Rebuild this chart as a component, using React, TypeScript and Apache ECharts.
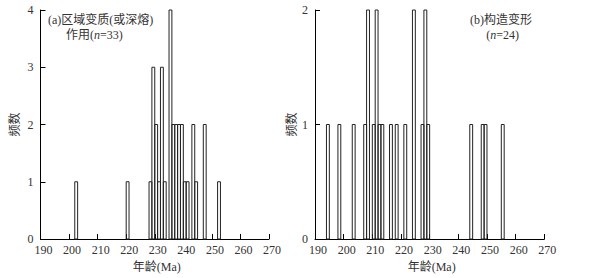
import React, { useEffect, useRef } from "react";
import * as echarts from "echarts";

// Panel (a): bin start ages (Ma, 1 Ma bins) and counts
const binsA = [202, 220, 228, 229, 230, 231, 232, 233, 235, 236, 237, 238, 239, 240, 241, 243, 244, 247, 252];
const countsA = [1, 1, 1, 3, 2, 1, 3, 1, 4, 2, 2, 2, 2, 1, 1, 2, 1, 2, 1];
// Panel (b)
const binsB = [194, 198, 203, 207, 208, 210, 211, 212, 213, 216, 218, 221, 224, 227, 228, 229, 244, 248, 249, 255];
const countsB = [1, 1, 1, 1, 2, 1, 2, 1, 1, 1, 1, 1, 2, 1, 2, 1, 1, 1, 1, 1];
const binWidth = 1;
const xTicks = [190, 270, 10];
const yMaxA = 4;
const yMaxB = 2;
const labelA1 = "(a)区域变质(或深熔)";
const labelA2 = "作用({i|n}=33)";
const labelB1 = "(b)构造变形";
const labelB2 = "({i|n}=24)";
const xName = "年龄(Ma)";
const yName = "频数";

const FONT = '"Liberation Serif", "Noto Sans CJK SC", serif';
const TXT = "#333";

export default function App() {
  const ref = useRef<HTMLDivElement>(null);
  useEffect(() => {
    if (!ref.current) return;
    const chart = echarts.init(ref.current, null, { renderer: "svg" });
    const mkX = (idx: number) => ({
      type: "value" as const,
      gridIndex: idx,
      min: xTicks[0],
      max: xTicks[1],
      interval: xTicks[2],
      name: xName,
      nameLocation: "middle" as const,
      nameGap: 20,
      nameTextStyle: { color: TXT, fontFamily: FONT, fontSize: 12, padding: [0, 0, 0, 4] },
      axisLine: { lineStyle: { color: "#000", width: 1 } },
      axisTick: { inside: true, length: 5, lineStyle: { color: "#000" } },
      axisLabel: { color: TXT, fontFamily: FONT, fontSize: 12, margin: 5, padding: [0, 0, 0, 6] },
      splitLine: { show: false },
    });
    const mkY = (idx: number, max: number, gap: number, margin: number) => ({
      type: "value" as const,
      gridIndex: idx,
      min: 0,
      max,
      interval: 1,
      name: yName,
      nameLocation: "middle" as const,
      nameRotate: 90,
      nameGap: gap,
      nameTextStyle: { color: TXT, fontFamily: FONT, fontSize: 12 },
      axisLine: { show: true, lineStyle: { color: "#000", width: 1 } },
      axisTick: { show: true, inside: true, length: 5, lineStyle: { color: "#000" } },
      axisLabel: { color: TXT, fontFamily: FONT, fontSize: 12, margin },
      splitLine: { show: false },
    });
    const renderItem = (params: any, api: any) => {
      const s = api.value(0);
      const c = api.value(1);
      const p0 = api.coord([s, c]);
      const p1 = api.coord([s + binWidth, 0]);
      return {
        type: "rect",
        shape: { x: p0[0], y: p0[1], width: p1[0] - p0[0], height: p1[1] - p0[1] },
        style: { fill: "none", stroke: "#222", lineWidth: 1 },
      };
    };
    const rich = { i: { fontStyle: "italic", fontFamily: FONT, fontSize: 12, fill: TXT } };
    const txt = (text: string, x: number, y: number, align: string) => ({
      type: "text",
      x,
      y,
      style: {
        text,
        fill: TXT,
        font: `12px ${FONT}`,
        fontFamily: FONT,
        fontSize: 12,
        align,
        verticalAlign: "middle",
        rich,
      },
    });
    chart.setOption({
      animation: false,
      backgroundColor: "#fff",
      grid: [
        { left: 40.5, right: 333, top: 10, bottom: 39 },
        { left: 315, right: 57.7, top: 10, bottom: 39 },
      ],
      xAxis: [mkX(0), mkX(1)],
      yAxis: [mkY(0, yMaxA, 19.5, 7), mkY(1, yMaxB, 16, 7)],
      series: [
        {
          type: "custom",
          xAxisIndex: 0,
          yAxisIndex: 0,
          renderItem,
          data: binsA.map((b, i) => [b, countsA[i]]),
        },
        {
          type: "custom",
          xAxisIndex: 1,
          yAxisIndex: 1,
          renderItem,
          data: binsB.map((b, i) => [b, countsB[i]]),
        },
      ],
      graphic: [
        txt(labelA1, 48, 20, "left"),
        txt(labelA2, 66, 35, "left"),
        txt(labelB1, 501, 20, "center"),
        txt(labelB2, 502.5, 35, "center"),
      ],
    });
    return () => chart.dispose();
  }, []);
  return (
    <div
      ref={ref}
      style={{ position: "fixed", left: 0, top: 0, width: 602, height: 278, background: "#fff" }}
    />
  );
}
